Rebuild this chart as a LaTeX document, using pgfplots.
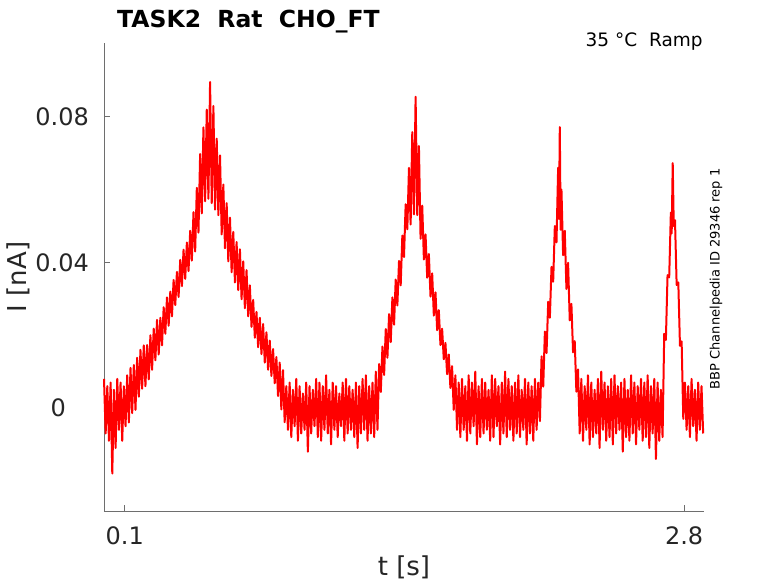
\documentclass[border=0pt]{standalone}
\usepackage{pgfplots}
\pgfplotsset{compat=1.18}
\usepackage{fontspec}
\setmainfont{DejaVu Sans}
\definecolor{axgray}{RGB}{110,110,110}
\definecolor{txtgray}{RGB}{38,38,38}
\begin{document}
\begin{tikzpicture}
\begin{axis}[
  scale only axis, width=600bp, height=468bp,
  xmin=0, xmax=2.896, ymin=-0.0283, ymax=0.1003,
  axis lines*=left,
  axis line style={axgray, line width=0.8bp},
  xtick={0.1,2.8}, xticklabels={0.1,2.8},
  ytick={0,0.04,0.08}, yticklabels={0\hphantom{.0},0.04,0.08},
  /pgf/number format/assume math mode=true,
  tick align=inside, major tick length=6bp,
  tick style={axgray, line width=0.8bp},
  tick label style={font=\fontsize{24bp}{24bp}\selectfont, text=txtgray},
  xticklabel style={inner sep=0pt, anchor=north, yshift=-15bp},
  yticklabel style={inner sep=0pt, anchor=east, xshift=-15bp},
  xlabel={t [s]}, ylabel={I [nA]},
  every axis x label/.style={at={(rel axis cs:0.5,-0.12)}, anchor=center, inner sep=0pt, font=\fontsize{26bp}{26bp}\selectfont, text=txtgray},
  every axis y label/.style={at={(rel axis cs:-0.143,0.5)}, anchor=center, rotate=90, inner sep=0pt, font=\fontsize{26bp}{26bp}\selectfont, text=txtgray},
  clip=false,
]
\addplot[color=red, line width=2bp, line join=round, no markers] coordinates {
(0.000,0.008) (0.008,-0.007) (0.016,0.006) (0.024,-0.009) (0.032,0.007) (0.040,-0.018) (0.048,0.005) (0.056,-0.011) (0.064,0.008) (0.072,-0.006) (0.080,0.007) (0.088,-0.009) (0.096,0.006) (0.104,-0.005) (0.112,0.009) (0.120,-0.004) (0.128,0.011)
(0.136,-0.0014) (0.144,0.0118) (0.152,-0.0005) (0.160,0.0138) (0.168,0.0031) (0.176,0.0160) (0.184,0.0053) (0.192,0.0172) (0.200,0.0060) (0.208,0.0173) (0.216,0.0079) (0.224,0.0200) (0.232,0.0105) (0.240,0.0218) (0.248,0.0131) (0.256,0.0242) (0.264,0.0147) (0.272,0.0248) (0.280,0.0172) (0.288,0.0277) (0.296,0.0204) (0.304,0.0304) (0.312,0.0226) (0.320,0.0320) (0.328,0.0252) (0.336,0.0352) (0.344,0.0283) (0.352,0.0374) (0.360,0.0305) (0.368,0.0407) (0.376,0.0335) (0.384,0.0435) (0.392,0.0355) (0.400,0.0455) (0.408,0.0376) (0.416,0.0487) (0.424,0.0405) (0.432,0.0538) (0.440,0.0430) (0.448,0.0605) (0.456,0.0482) (0.464,0.0698) (0.472,0.0535) (0.480,0.0771) (0.488,0.0568) (0.496,0.0820) (0.504,0.0575)
(0.512,0.0896) (0.520,0.0563) (0.528,0.0830) (0.536,0.0545) (0.544,0.0740) (0.552,0.0530) (0.560,0.0694) (0.568,0.0477) (0.576,0.0614) (0.584,0.0439) (0.592,0.0563) (0.600,0.0403) (0.608,0.0523) (0.616,0.0373) (0.624,0.0484) (0.632,0.0345) (0.640,0.0456) (0.648,0.0324) (0.656,0.0436) (0.664,0.0299) (0.672,0.0403) (0.680,0.0274) (0.688,0.0379) (0.696,0.0252) (0.704,0.0337) (0.712,0.0223) (0.720,0.0297) (0.728,0.0193) (0.736,0.0264) (0.744,0.0167) (0.752,0.0248) (0.760,0.0148) (0.768,0.0231) (0.776,0.0125) (0.784,0.0208) (0.792,0.0105) (0.800,0.0185) (0.808,0.0088) (0.816,0.0162) (0.824,0.0068) (0.832,0.0140) (0.840,0.0033) (0.848,0.0125) (0.856,-0.0004) (0.864,0.0104) (0.872,-0.0039)
(0.880,0.006) (0.888,-0.006) (0.896,0.007) (0.904,-0.008) (0.912,0.005) (0.920,-0.005) (0.928,0.008) (0.936,-0.009) (0.944,0.006) (0.952,-0.007) (0.960,0.004) (0.968,-0.006) (0.976,0.007) (0.984,-0.012) (0.992,0.006) (1.000,-0.007) (1.008,0.005) (1.016,-0.005) (1.024,0.008) (1.032,-0.008) (1.040,0.007) (1.048,-0.009) (1.056,0.006) (1.064,-0.006) (1.072,0.009) (1.080,-0.007) (1.088,0.005) (1.096,-0.010) (1.104,0.007) (1.112,-0.006) (1.120,0.006) (1.128,-0.008) (1.136,0.004) (1.144,-0.005) (1.152,0.007) (1.160,-0.009) (1.168,0.008) (1.176,-0.007) (1.184,0.006) (1.192,-0.006) (1.200,0.005) (1.208,-0.008) (1.216,0.007) (1.224,-0.011) (1.232,0.006) (1.240,-0.007) (1.248,0.008) (1.256,-0.006) (1.264,0.009) (1.272,-0.009) (1.280,0.006) (1.288,-0.007) (1.296,0.007) (1.304,-0.008) (1.312,0.010) (1.320,-0.006)
(1.328,0.0121) (1.336,0.0044) (1.344,0.0169) (1.352,0.0091) (1.360,0.0217) (1.368,0.0138) (1.376,0.0258) (1.384,0.0181) (1.392,0.0304) (1.400,0.0229) (1.408,0.0353) (1.416,0.0282) (1.424,0.0404) (1.432,0.0337) (1.440,0.0474) (1.448,0.0415) (1.456,0.0560) (1.464,0.0491) (1.472,0.0660) (1.480,0.0504) (1.488,0.0758) (1.496,0.0532) (1.504,0.0855) (1.512,0.0530) (1.520,0.0720) (1.528,0.0465) (1.536,0.0556) (1.544,0.0408) (1.552,0.0477) (1.560,0.0358) (1.568,0.0423) (1.576,0.0306) (1.584,0.0370) (1.592,0.0254) (1.600,0.0318) (1.608,0.0214) (1.616,0.0269) (1.624,0.0173) (1.632,0.0218) (1.640,0.0134) (1.648,0.0179) (1.656,0.0093) (1.664,0.0147) (1.672,0.0055) (1.680,0.0115) (1.688,-0.0005) (1.696,0.0090) (1.704,-0.0060)
(1.712,0.007) (1.720,-0.008) (1.728,0.008) (1.736,-0.006) (1.744,0.006) (1.752,-0.009) (1.760,0.009) (1.768,-0.007) (1.776,0.007) (1.784,-0.005) (1.792,0.010) (1.800,-0.010) (1.808,0.006) (1.816,-0.008) (1.824,0.008) (1.832,-0.007) (1.840,0.007) (1.848,-0.006) (1.856,0.005) (1.864,-0.009) (1.872,0.009) (1.880,-0.008) (1.888,0.008) (1.896,-0.005) (1.904,0.006) (1.912,-0.010) (1.920,0.007) (1.928,-0.007) (1.936,0.010) (1.944,-0.008) (1.952,0.008) (1.960,-0.006) (1.968,0.006) (1.976,-0.009) (1.984,0.007) (1.992,-0.007) (2.000,0.009) (2.008,-0.008) (2.016,0.005) (2.024,-0.006) (2.032,0.008) (2.040,-0.010) (2.048,0.007) (2.056,-0.007) (2.064,0.006) (2.072,-0.009) (2.080,0.008) (2.088,-0.006) (2.096,0.007)
(2.104,-0.0036) (2.112,0.0142) (2.120,0.0059) (2.128,0.0210) (2.136,0.0151) (2.144,0.0292) (2.152,0.0248) (2.160,0.0388) (2.168,0.0347) (2.176,0.0500) (2.184,0.0455) (2.192,0.0660) (2.196,0.0520) (2.200,0.0772) (2.204,0.0490) (2.208,0.0600) (2.216,0.0420) (2.224,0.0487) (2.232,0.0327) (2.240,0.0399) (2.248,0.0241) (2.256,0.0286) (2.264,0.0153) (2.272,0.0184) (2.280,0.0045) (2.288,0.0106)
(2.296,-0.007) (2.304,0.008) (2.312,-0.009) (2.320,0.006) (2.328,-0.006) (2.336,0.009) (2.344,-0.010) (2.352,0.007) (2.360,-0.008) (2.368,0.005) (2.376,-0.007) (2.384,0.008) (2.392,-0.011) (2.400,0.010) (2.408,-0.006) (2.416,0.007) (2.424,-0.009) (2.432,0.006) (2.440,-0.008) (2.448,0.008) (2.456,-0.010) (2.464,0.009) (2.472,-0.007) (2.480,0.006) (2.488,-0.006) (2.496,0.007) (2.504,-0.012) (2.512,0.008) (2.520,-0.008) (2.528,0.005) (2.536,-0.009) (2.544,0.009) (2.552,-0.007) (2.560,0.007) (2.568,-0.010) (2.576,0.006) (2.584,-0.006) (2.592,0.008) (2.600,-0.009) (2.608,0.007) (2.616,-0.008) (2.624,0.009) (2.632,-0.011) (2.640,0.006) (2.648,-0.007) (2.656,0.008) (2.664,-0.014) (2.672,0.007) (2.680,-0.009) (2.688,0.005) (2.696,-0.008)
(2.704,0.0204) (2.712,0.0187) (2.720,0.0365) (2.728,0.0359) (2.736,0.0537) (2.740,0.0480) (2.745,0.0673) (2.750,0.0500) (2.756,0.0516) (2.764,0.0338) (2.772,0.0345) (2.780,0.0171) (2.788,0.0183) (2.796,-0.0030)
(2.804,0.007) (2.812,-0.006) (2.820,0.006) (2.828,-0.008) (2.836,0.008) (2.844,-0.005) (2.852,0.005) (2.860,-0.009) (2.868,0.007) (2.876,-0.006) (2.884,0.006) (2.892,-0.007)
};
\node[anchor=base west, inner sep=0pt, font=\fontsize{23.5bp}{23.5bp}\selectfont\bfseries, text=black] at (rel axis cs:0.0217,1.034) {TASK2\ \ Rat\ \ CHO\_FT};
\node[anchor=base east, inner sep=0pt, font=\fontsize{18.5bp}{18.5bp}\selectfont, text=black] at (rel axis cs:0.998,0.9915) {35 °C\ \ Ramp};
\node[anchor=center, rotate=90, inner sep=0pt, font=\fontsize{13bp}{13bp}\selectfont, text=black] at (rel axis cs:1.02,0.496) {BBP Channelpedia ID 29346 rep 1};
\end{axis}
\path ([shift={(-104bp,-72bp)}]current axis.south west) rectangle ([shift={(74bp,43bp)}]current axis.north east);
\end{tikzpicture}
\end{document}
